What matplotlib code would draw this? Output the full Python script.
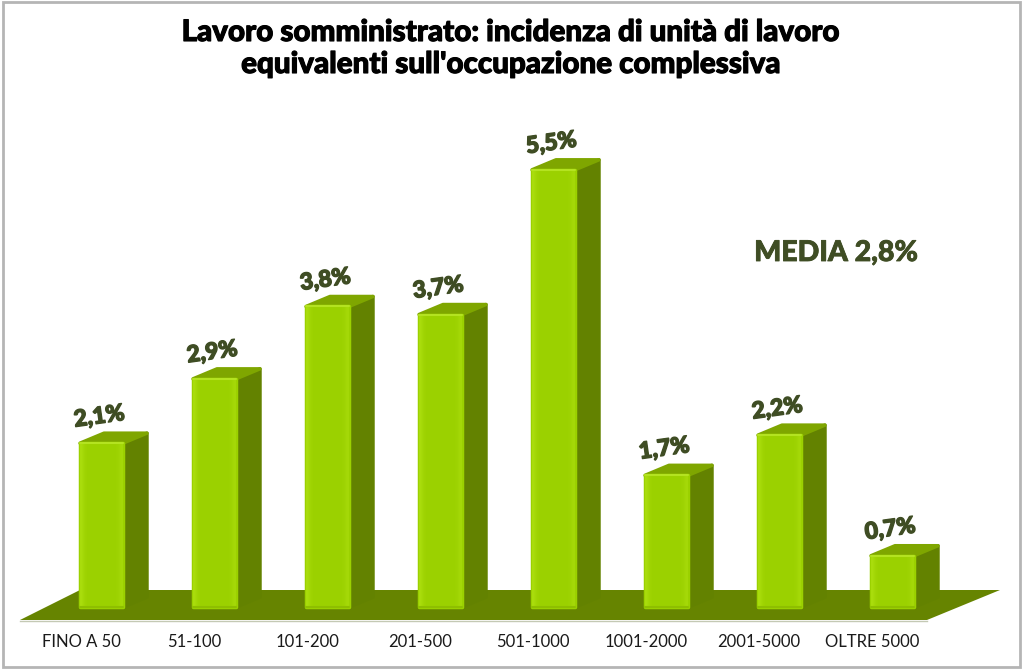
# -*- coding: utf-8 -*-
import numpy as np
import matplotlib
matplotlib.use('Agg')
import matplotlib.pyplot as plt
import matplotlib.patheffects as pe
from matplotlib.patches import Polygon

# data
categories = ['FINO A 50', '51-100', '101-200', '201-500', '501-1000',
              '1001-2000', '2001-5000', 'OLTRE 5000']
values = [2.1, 2.9, 3.8, 3.7, 5.5, 1.7, 2.2, 0.7]
value_labels = ['2,1%', '2,9%', '3,8%', '3,7%', '5,5%', '1,7%', '2,2%', '0,7%']

plt.rcParams['font.family'] = ['Lato', 'DejaVu Sans']

W, H = 1023, 670
fig = plt.figure(figsize=(W / 100, H / 100), dpi=100)
ax = fig.add_axes([0, 0, 1, 1])

# the axes fill the figure: one category = 113 px, one percent = 80.4 px
# zero sits a little below the floor, the columns start at base
xpx = 113.0
ypx = 80.4
x0 = 101.5
y0 = 612.0
base = 5 / ypx
ax.axis('off')

def px(x, y):
    # picture pixels to data units, only for the frame and the floor
    return ((x - x0) / xpx, (y0 - y) / ypx)

def heavy(col, w):
    return [pe.withStroke(linewidth=w, foreground=col)]

ax.add_patch(Polygon([px(3, 2), px(1020, 2), px(1020, 667), px(3, 667)], closed=True,
                     fc='white', ec='#b5b5b5', lw=2, zorder=0))
ax.add_patch(Polygon([px(20, 620), px(80, 590), px(1000, 590), px(927, 620)], closed=True,
                     fc='#668400', ec='none', zorder=1))
ax.plot([px(20, 620.5)[0], px(927, 620.5)[0]], [px(20, 620.5)[1]] * 2, color='#c4c9b4', lw=1, zorder=1)

width = 43 / xpx
dx = 24 / xpx
dy = 10 / ypx
xs = np.arange(len(values))

grad = np.array([[0.0, 0.7, 1.0, 1.0, 1.0, 1.0, 1.0, 1.0, 1.0, 1.0, 1.0, 0.8, 0.3]])
cmap = matplotlib.colors.LinearSegmentedColormap.from_list('g', ['#a9dc0c', '#9bd100'])

bars = ax.bar(xs, np.array(values) - base, bottom=base, width=width, color='#9bd100',
              edgecolor='#9bd100', lw=2.5, joinstyle='round', zorder=4)
for x, v, b, lab in zip(xs, values, bars, value_labels):
    l = x - width / 2
    r = x + width / 2
    # side face and top face of the 3d column
    ax.add_patch(Polygon([(r, base), (r + dx, base + dy), (r + dx, v + dy), (r, v)], closed=True,
                         fc='#638200', ec='#638200', lw=2.5, joinstyle='round', zorder=3))
    ax.add_patch(Polygon([(l, v), (l + dx, v + dy), (r + dx, v + dy), (r, v)], closed=True,
                         fc='#7fa600', ec='#7fa600', lw=2.5, joinstyle='round', zorder=3))
    # lighter rim along the front face
    im = ax.imshow(grad, extent=(l, r, base, v), aspect='auto', cmap=cmap, vmin=0, vmax=1,
                   interpolation='bilinear', zorder=5)
    im.set_clip_path(b)
    ax.plot([l, r], [v, v], color='#b4e321', lw=1.5, zorder=6, solid_capstyle='round')
    ax.plot([l, r], [base, base], color='#8ebf00', lw=1.5, zorder=6, solid_capstyle='round')
    ax.text(x - 0.02, v + dy + 0.03, lab, rotation=8, ha='center', va='bottom', fontsize=16.5,
            fontweight='black', color='#3f4d24', zorder=7, path_effects=heavy('#3f4d24', 1.0))

ax.set_xlim(-x0 / xpx, (W - x0) / xpx)
ax.set_ylim((y0 - H) / ypx, y0 / ypx)

# category labels under the floor
for x, c in zip(xs, categories):
    ax.text(x - 0.18, px(0, 642)[1], c, ha='center', va='center', fontsize=12, color='#1a1a1a')

tx, ty = px(512, 32)
ax.text(tx, ty, 'Lavoro somministrato: incidenza di unità di lavoro', ha='center', va='center',
        fontsize=21.3, fontweight='black', color='black', path_effects=heavy('black', 0.8))
tx, ty = px(512, 64)
ax.text(tx, ty, "equivalenti sull'occupazione complessiva", ha='center', va='center',
        fontsize=21.3, fontweight='black', color='black', path_effects=heavy('black', 0.8))
tx, ty = px(836, 253)
ax.text(tx, ty, 'MEDIA 2,8%', ha='center', va='center', fontsize=20.5, fontweight='black',
        color='#3f4d24', path_effects=heavy('#3f4d24', 0.6))

fig.savefig('out.png', dpi=100)
